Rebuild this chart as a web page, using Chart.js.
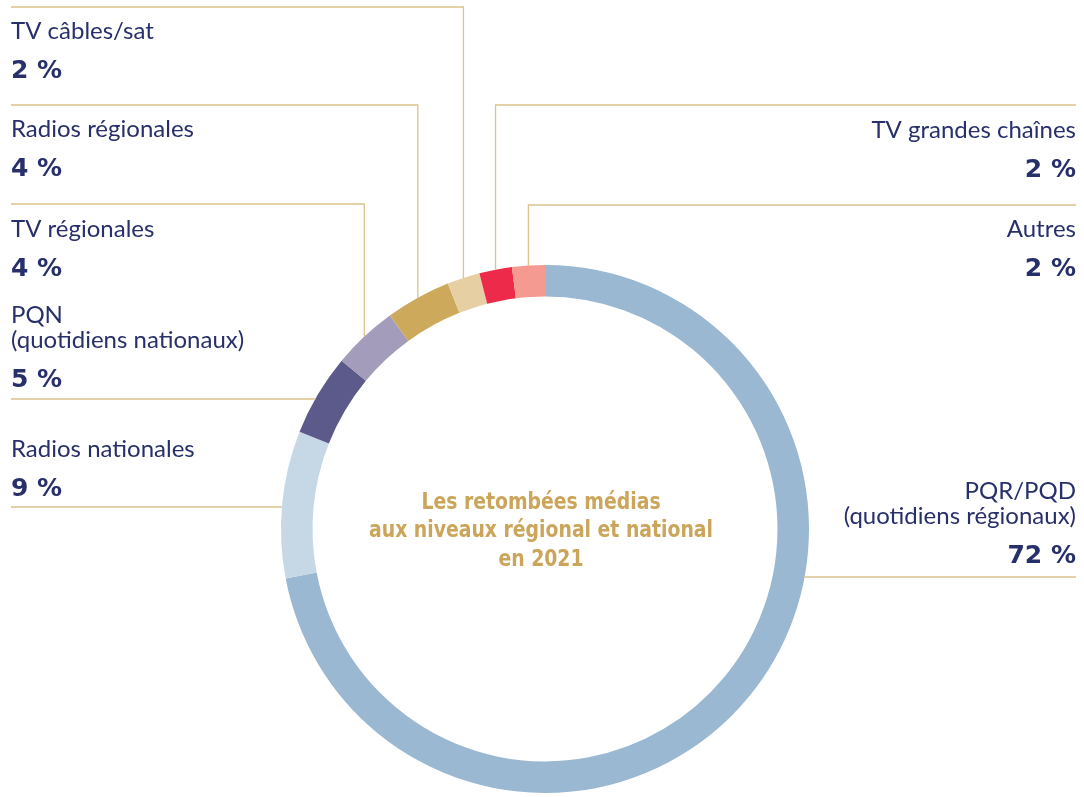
<!DOCTYPE html>
<html>
<head>
<meta charset="utf-8">
<script src="https://cdn.jsdelivr.net/npm/chart.js@4.4.1/dist/chart.umd.min.js"></script>
<style>
  html, body { margin: 0; padding: 0; background: #fff; }
  #wrap { width: 1084px; height: 797px; position: relative; }
</style>
</head>
<body>
<div id="wrap"><canvas id="myChart" width="1084" height="797"></canvas></div>
<script>
// data, in drawing order (clockwise from 12 o'clock)
const categories = ['PQR/PQD (quotidiens régionaux)', 'Radios nationales', 'PQN (quotidiens nationaux)',
    'TV régionales', 'Radios régionales', 'TV câbles/sat', 'TV grandes chaînes', 'Autres'];
const shares = [72, 9, 5, 4, 4, 2, 2, 2];
const labelLines = [
    ['PQR/PQD', '(quotidiens régionaux)'],
    ['Radios nationales'],
    ['PQN', '(quotidiens nationaux)'],
    ['TV régionales'],
    ['Radios régionales'],
    ['TV câbles/sat'],
    ['TV grandes chaînes'],
    ['Autres']
];
const sliceColors = ['#9ab8d2', '#c6d8e6', '#5c5a8a', '#a39dbb', '#cda95c', '#e6cfa2', '#ee2a4a', '#f49a90'];
const centerTitle = ['Les retombées médias', 'aux niveaux régional et national', 'en 2021'];

// label placement: side, leader style, y of leader line, baseline of first text line
const labelPos = [
    {side: 'right', leader: 'horizontal', lineY: 577, y: 499},
    {side: 'left', leader: 'horizontal', lineY: 507, y: 457},
    {side: 'left', leader: 'horizontal', lineY: 399, y: 323},
    {side: 'left', leader: 'vertical', lineY: 204, y: 237},
    {side: 'left', leader: 'vertical', lineY: 105, y: 137},
    {side: 'left', leader: 'vertical', lineY: 7, y: 39},
    {side: 'right', leader: 'vertical', lineY: 105, y: 138},
    {side: 'right', leader: 'vertical', lineY: 205, y: 237}
];

const NAVY = '#28306b';
const GOLD_LINE = '#dcc28c';
const LEFT_X = 11;
const RIGHT_X = 1076;

const leaderLabels = {
    id: 'leaderLabels',
    afterDraw(chart) {
        const ctx = chart.ctx;
        const arcs = chart.getDatasetMeta(0).data;
        const cx = arcs[0].x, cy = arcs[0].y, R = arcs[0].outerRadius;

        ctx.save();
        ctx.strokeStyle = GOLD_LINE;
        ctx.lineWidth = 1.3;
        arcs.forEach((arc, i) => {
            const p = labelPos[i];
            const mid = (arc.startAngle + arc.endAngle) / 2;
            ctx.beginPath();
            if (p.leader === 'vertical') {
                const ax = cx + R * Math.cos(mid);
                const ay = cy - Math.sqrt(R * R - (ax - cx) * (ax - cx));
                if (p.side === 'left') {
                    ctx.moveTo(LEFT_X, p.lineY);
                } else {
                    ctx.moveTo(RIGHT_X, p.lineY);
                }
                ctx.lineTo(ax, p.lineY);
                ctx.lineTo(ax, ay);
            } else {
                const dx = Math.sqrt(R * R - (p.lineY - cy) * (p.lineY - cy));
                if (p.side === 'left') {
                    ctx.moveTo(LEFT_X, p.lineY);
                    ctx.lineTo(cx - dx, p.lineY);
                } else {
                    ctx.moveTo(RIGHT_X, p.lineY);
                    ctx.lineTo(cx + dx, p.lineY);
                }
            }
            ctx.stroke();

            // texts
            ctx.fillStyle = NAVY;
            ctx.textAlign = p.side === 'left' ? 'left' : 'right';
            ctx.textBaseline = 'alphabetic';
            const tx = p.side === 'left' ? LEFT_X : RIGHT_X;
            ctx.font = '400 24px Lato, "Noto Sans", sans-serif';
            let y = p.y;
            labelLines[i].forEach((t, k) => {
                if (k > 0) y += 25;
                ctx.fillText(t, tx, y);
            });
            ctx.font = 'bold 25px "DejaVu Sans", sans-serif';
            ctx.fillText(shares[i] + ' %', tx, y + 39);
        });

        // title in the hole, squeezed a bit to look condensed
        ctx.fillStyle = '#cba55a';
        ctx.textAlign = 'center';
        ctx.font = 'bold 23px "Liberation Sans Narrow", "DejaVu Sans Condensed", sans-serif';
        const titleY = [509, 537, 566];
        ctx.translate(cx - 4, 0);
        ctx.scale(0.91, 1);
        centerTitle.forEach((t, k) => ctx.fillText(t, 0, titleY[k]));
        ctx.restore();
    }
};

const ctx = document.getElementById('myChart').getContext('2d');
new Chart(ctx, {
    type: 'doughnut',
    data: {
        labels: categories,
        datasets: [{
            data: shares,
            backgroundColor: sliceColors,
            borderWidth: 0,
            hoverOffset: 0,
            offset: 0
        }]
    },
    options: {
        responsive: false,
        animation: false,
        radius: 264,
        cutout: 236,
        layout: {padding: {left: 6, right: 0, top: 261, bottom: 0}},
        plugins: {
            legend: {display: false},
            tooltip: {enabled: false}
        },
        events: []
    },
    plugins: [leaderLabels]
});
</script>
</body>
</html>
